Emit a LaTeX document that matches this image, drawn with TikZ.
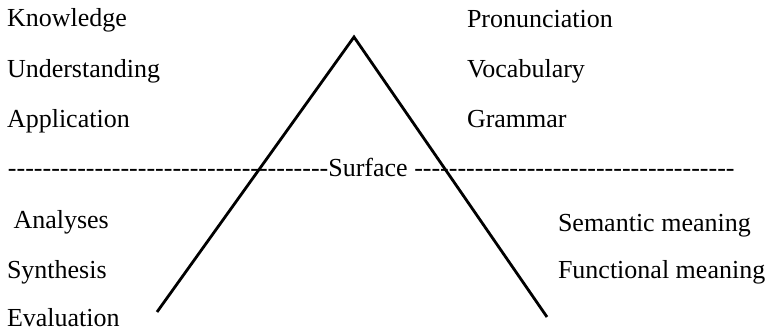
\documentclass[tikz,border=0pt]{standalone}
\usepackage{fontspec}
\setmainfont{Liberation Serif}
\newcommand\hy{\hbox{-}}
\newcommand\hyfive{\hy\hy\hy\hy\hy}
\newcommand\hyrow{\hyfive\hyfive\hyfive\hyfive\hyfive\hyfive\hyfive\hy\hy}
\begin{document}
\begin{tikzpicture}[x=1pt,y=-1pt,
  lbl/.style={anchor=base west,inner sep=0pt,outer sep=0pt,font=\fontsize{26}{30}\selectfont},
  edge/.style={line width=2.8pt,line join=miter}]
\useasboundingbox (0,0) rectangle (776,331);
\node[lbl] (kn) at (7,27) {Knowledge};
\node[lbl] (un) at (7,78) {Understanding};
\node[lbl] (ap) at (7,128) {Application};
\node[lbl] (pr) at (467,28) {Pronunciation};
\node[lbl] (vo) at (467,78) {Vocabulary};
\node[lbl] (gr) at (467,128) {Grammar};
\node[lbl] (sf) at (8,177) {\hyrow Surface \hyrow};
\node[lbl] (an) at (7,228) {\ Analyses};
\node[lbl] (sy) at (7,278) {Synthesis};
\node[lbl] (ev) at (7,326) {Evaluation};
\node[lbl] (se) at (558,231) {Semantic meaning};
\node[lbl] (fu) at (558,278) {Functional meaning};
\coordinate (apex) at (354,37);
\coordinate (lf) at (157,312);
\coordinate (rf) at (547,317);
\draw[edge] (lf) -- (apex) -- (rf);
\end{tikzpicture}
\end{document}
